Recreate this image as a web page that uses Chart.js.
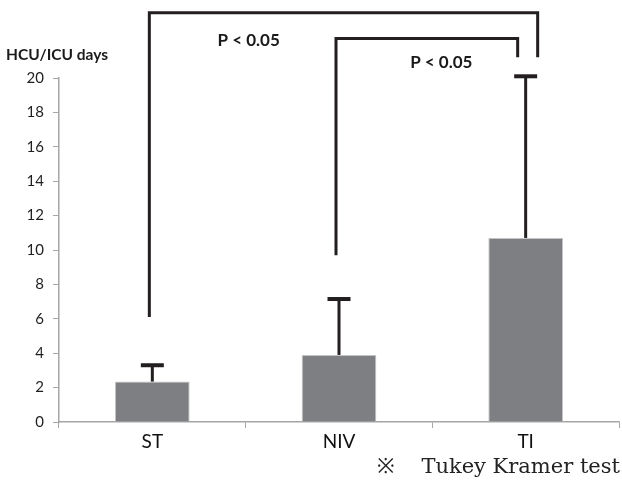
<!DOCTYPE html>
<html>
<head>
<meta charset="utf-8">
<script src="https://cdn.jsdelivr.net/npm/chart.js@4.4.0/dist/chart.umd.min.js"></script>
<style>
  html, body { margin: 0; padding: 0; background: #fff; }
  #wrap { width: 622px; height: 486px; position: relative; }
</style>
</head>
<body>
<div id="wrap"><canvas id="chart"></canvas></div>
<script>
// data
const groups = ['ST', 'NIV', 'TI'];
const meanDays = [2.35, 3.9, 10.7];
const sdDays = [0.95, 3.25, 9.4];
const yTicks = [0, 2, 4, 6, 8, 10, 12, 14, 16, 18, 20];

// significance brackets (group index and y values)
const bracketFrom = [0, 1];
const bracketTo = [2, 2];
const bracketStart = [6.1, 9.7];
const bracketTop = [23.8, 22.3];
const bracketEnd = [21.2, 21.2];
const bracketLabels = ['P < 0.05', 'P < 0.05'];
const labelValues = [22.2, 20.9];

const INK = '#231f20';

const extras = {
    id: 'extras',
    afterDatasetsDraw(chart) {
        const ctx = chart.ctx;
        const x = chart.scales.x;
        const y = chart.scales.y;
        ctx.save();

        // error bars (upper only)
        ctx.fillStyle = INK;
        ctx.strokeStyle = INK;
        ctx.lineWidth = 3;
        meanDays.forEach((m, i) => {
            const cx = x.getPixelForValue(i);
            const y0 = y.getPixelForValue(m);
            const y1 = y.getPixelForValue(m + sdDays[i]);
            ctx.beginPath();
            ctx.moveTo(cx, y0);
            ctx.lineTo(cx, y1);
            ctx.stroke();
            ctx.fillRect(cx - 11.5, y1 - 2, 23, 4);
        });

        // brackets
        const endShift = [12, -8];
        ctx.lineJoin = 'miter';
        ctx.lineCap = 'butt';
        bracketFrom.forEach((f, i) => {
            const xa = x.getPixelForValue(f) - 3;
            const xb = x.getPixelForValue(bracketTo[i]) + endShift[i];
            ctx.beginPath();
            ctx.moveTo(xa, y.getPixelForValue(bracketStart[i]));
            ctx.lineTo(xa, y.getPixelForValue(bracketTop[i]));
            ctx.lineTo(xb, y.getPixelForValue(bracketTop[i]));
            ctx.lineTo(xb, y.getPixelForValue(bracketEnd[i]));
            ctx.stroke();
        });

        // p-value labels
        ctx.font = 'bold 17px Lato';
        ctx.textAlign = 'center';
        ctx.textBaseline = 'middle';
        ctx.fillStyle = '#1a1a1a';
        const labelShift = [3, 9];
        bracketLabels.forEach((t, i) => {
            const a = x.getPixelForValue(bracketFrom[i]);
            const b = x.getPixelForValue(bracketFrom[i] + 1);
            ctx.fillText(t, (a + b) / 2 + labelShift[i], y.getPixelForValue(labelValues[i]));
        });

        // axis title
        ctx.textAlign = 'left';
        ctx.font = 'bold 15.5px Lato';
        ctx.fillText('HCU/ICU days', 6, 55);

        // footnote
        ctx.font = '21px "DejaVu Serif"';
        ctx.fillStyle = '#222';
        ctx.fillText('※', 377, 468);
        ctx.textAlign = 'right';
        ctx.fillText('Tukey Kramer test', 620, 468);
        ctx.restore();
    }
};

new Chart(document.getElementById('chart'), {
    type: 'bar',
    data: {
        labels: groups,
        datasets: [{
            data: meanDays,
            backgroundColor: '#7e7f83',
            borderColor: '#c4c4c6',
            borderWidth: 1,
            barPercentage: 0.8,
            categoryPercentage: 0.5
        }]
    },
    options: {
        responsive: true,
        maintainAspectRatio: false,
        animation: false,
        layout: { padding: { left: 0, right: 3, top: 78, bottom: 0 } },
        plugins: {
            legend: { display: false },
            tooltip: { enabled: false }
        },
        scales: {
            x: {
                afterFit(s) { s.height = 64; },
                grid: {
                    offset: true,
                    drawOnChartArea: false,
                    tickLength: 6,
                    color: '#a6a6a6'
                },
                border: { color: '#a6a6a6', width: 1.5 },
                ticks: {
                    color: '#111',
                    padding: 2,
                    font: { family: 'Lato', size: 19 }
                }
            },
            y: {
                min: 0,
                max: 20,
                afterFit(s) { s.width = 59; },
                afterBuildTicks(s) { s.ticks = yTicks.map(v => ({ value: v })); },
                grid: {
                    drawOnChartArea: false,
                    tickLength: 6,
                    color: '#a6a6a6'
                },
                border: { color: '#a6a6a6', width: 1.5 },
                ticks: {
                    color: '#1f1f1f',
                    padding: 9,
                    font: { family: 'Lato', size: 15 }
                }
            }
        }
    },
    plugins: [extras]
});
</script>
</body>
</html>
